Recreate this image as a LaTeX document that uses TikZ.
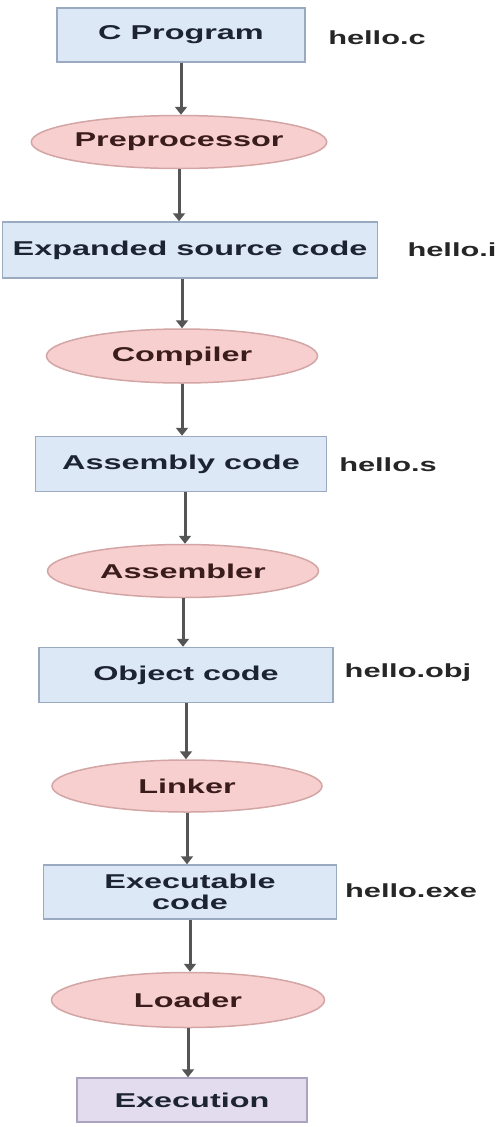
\documentclass[tikz,border=0pt]{standalone}
\usepackage{fontspec}
\usepackage{graphicx}
\setmainfont{Liberation Sans}
\usetikzlibrary{shapes.geometric,arrows.meta}
\newcommand\wt[1]{\scalebox{1.62}[1]{#1}}
\definecolor{boxfill}{HTML}{DDE8F7}
\definecolor{boxline}{HTML}{9AAAC0}
\definecolor{elfill}{HTML}{F7CFCF}
\definecolor{elline}{HTML}{D4A5A5}
\definecolor{runfill}{HTML}{E3DCEE}
\definecolor{runline}{HTML}{ACA4BE}
\definecolor{boxtext}{HTML}{1C2333}
\definecolor{eltext}{HTML}{3B1C1C}
\definecolor{arrcol}{HTML}{555555}
\tikzset{
  stagebox/.style={draw=boxline, fill=boxfill, line width=1.5pt, inner sep=0pt,
    text=boxtext, font=\fontsize{20}{21}\selectfont\bfseries, align=center},
  toolell/.style={ellipse, draw=elline, fill=elfill, line width=1.5pt, inner sep=0pt,
    text=eltext, font=\fontsize{20}{22}\selectfont\bfseries},
  runbox/.style={draw=runline, fill=runfill, line width=1.5pt, inner sep=0pt,
    text=boxtext, font=\fontsize{20}{22}\selectfont\bfseries},
  filelbl/.style={inner sep=0pt, text=black!85, font=\fontsize{19}{22}\selectfont\bfseries},
  arr/.style={draw=arrcol, line width=3pt, -{Triangle[length=8pt,width=12pt]}}
}
\begin{document}
\begin{tikzpicture}[x=1pt,y=-1pt]
\useasboundingbox[fill=white] (0,0) rectangle (496,1127);
\node[stagebox, minimum width=248pt, minimum height=54pt] (cprog) at (181,35) {\wt{C Program}};
\node[toolell, minimum width=270pt, minimum height=53pt] (pre) at (179,142) {\wt{Preprocessor}};
\node[stagebox, minimum width=375pt, minimum height=56pt] (exp) at (190,250) {\wt{Expanded source code}};
\node[toolell, minimum width=271pt, minimum height=54pt] (comp) at (182,356) {\wt{Compiler}};
\node[stagebox, minimum width=291pt, minimum height=55pt] (asm) at (181,464) {\wt{Assembly code}};
\node[toolell, minimum width=271pt, minimum height=53pt] (asmb) at (183,571) {\wt{Assembler}};
\node[stagebox, minimum width=294pt, minimum height=55pt] (obj) at (186,675) {\wt{Object code}};
\node[toolell, minimum width=270pt, minimum height=52pt] (link) at (187,786) {\wt{Linker}};
\node[stagebox, minimum width=293pt, minimum height=54pt] (exe) at (190,892) {\wt{Executable}\\\wt{code}};
\node[toolell, minimum width=273pt, minimum height=55pt] (load) at (188,1000) {\wt{Loader}};
\node[runbox, minimum width=230pt, minimum height=44pt] (run) at (192,1100) {\wt{Execution}};

\node[filelbl] (fc) at (377,38) {\wt{hello.c}};
\node[filelbl] (fi) at (452,250) {\wt{hello.i}};
\node[filelbl] (fs) at (388,465) {\wt{hello.s}};
\node[filelbl] (fo) at (408,673) {\wt{hello.obj}};
\node[filelbl] (fe) at (411,891) {\wt{hello.exe}};

\draw[arr] (cprog.south) -- (cprog.south |- pre.north);
\draw[arr] (pre.south) -- (pre.south |- exp.north);
\draw[arr] ([xshift=-8pt]exp.south) -- ([xshift=-8pt]exp.south |- comp.north);
\draw[arr] (comp.south) -- (comp.south |- asm.north);
\draw[arr] ([xshift=4pt]asm.south) -- ([xshift=4pt]asm.south |- asmb.north);
\draw[arr] (asmb.south) -- (asmb.south |- obj.north);
\draw[arr] (obj.south) -- (obj.south |- link.north);
\draw[arr] (link.south) -- (link.south |- exe.north);
\draw[arr] (exe.south) -- (exe.south |- load.north);
\draw[arr] (load.south) -- (load.south |- run.north);
\end{tikzpicture}
\end{document}
